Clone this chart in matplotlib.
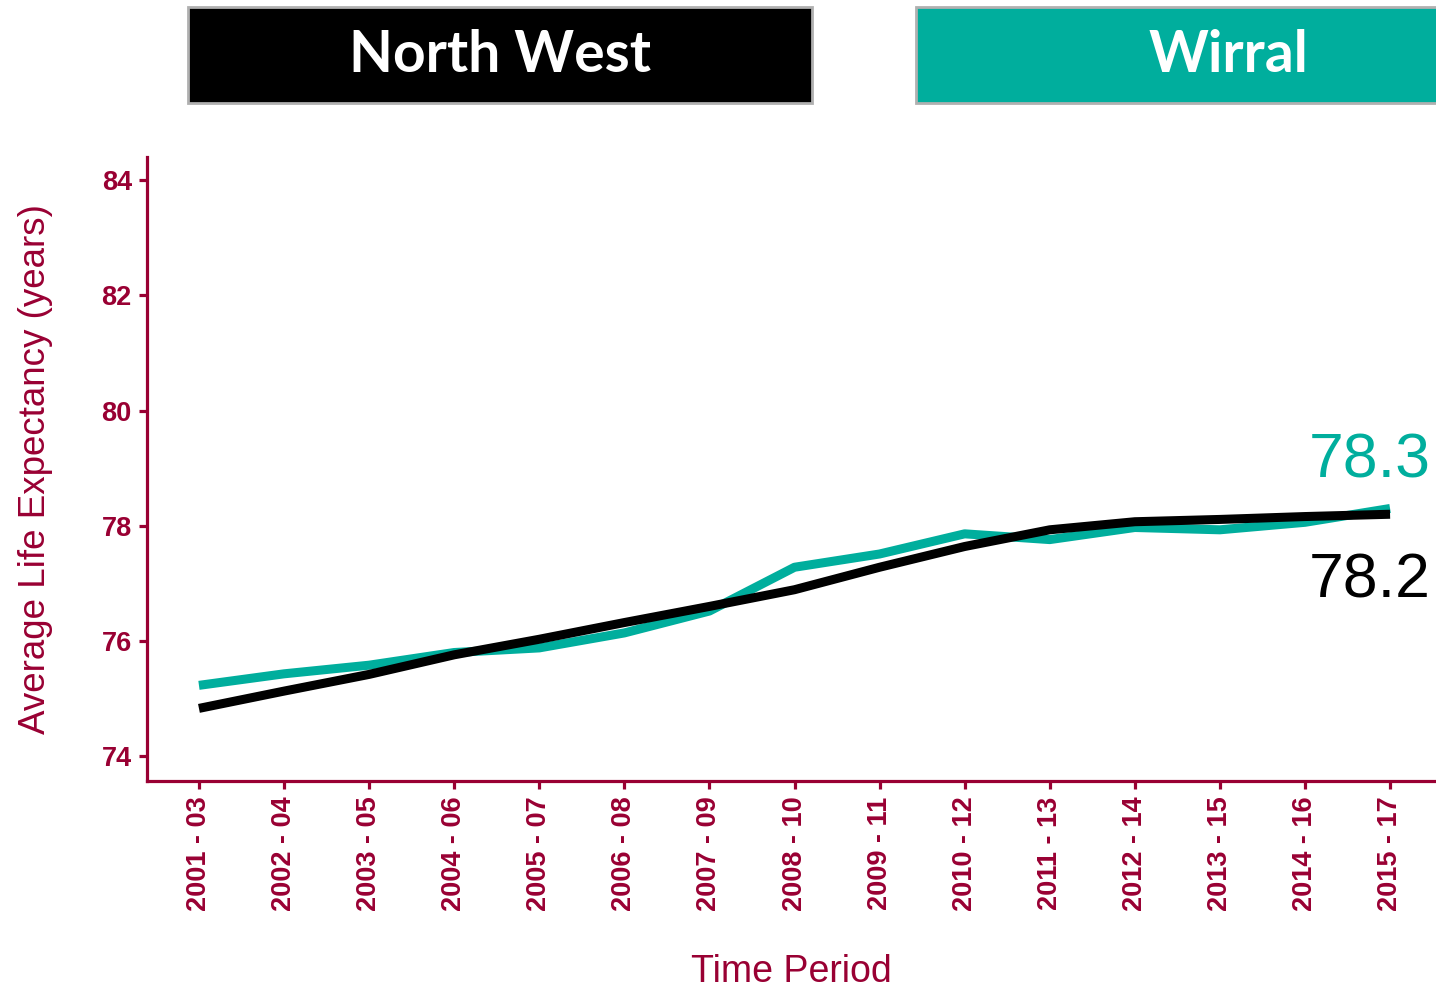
import matplotlib.pyplot as plt
from matplotlib.patches import Rectangle

# Life expectancy, 3-year pooled periods
periods = ['2001 - 03', '2002 - 04', '2003 - 05', '2004 - 06', '2005 - 07',
           '2006 - 08', '2007 - 09', '2008 - 10', '2009 - 11', '2010 - 12',
           '2011 - 13', '2012 - 14', '2013 - 15', '2014 - 16', '2015 - 17']
wirral = [75.23, 75.43, 75.58, 75.80, 75.88, 76.14, 76.52, 77.28, 77.51, 77.86,
          77.76, 77.97, 77.93, 78.06, 78.3]
north_west = [74.83, 75.13, 75.42, 75.76, 76.03, 76.32, 76.60, 76.89, 77.28, 77.64,
              77.93, 78.07, 78.11, 78.16, 78.2]

maroon = '#990033'
teal = '#00ae9d'

fig = plt.figure(figsize=(14.36, 9.94), dpi=100)
ax = fig.add_axes([0.1024, 0.2143, 0.8976, 0.6277])

x = range(len(periods))
ax.plot(x, wirral, color=teal, lw=6.5, solid_capstyle='butt', zorder=2)
ax.plot(x, north_west, color='black', lw=6.5, solid_capstyle='butt', zorder=3)

ax.set_xlim(-0.61, 14.54)
ax.set_ylim(73.57, 84.4)
ax.set_yticks([74, 76, 78, 80, 82, 84])
ax.set_xticks(list(x))
ax.set_xticklabels(periods, rotation=90)

for s in ['top', 'right']:
    ax.spines[s].set_visible(False)
for s in ['left', 'bottom']:
    ax.spines[s].set_color(maroon)
    ax.spines[s].set_linewidth(2.3)

ax.tick_params(colors=maroon, width=2.3, length=6, labelsize=19.5, pad=5)
for lab in ax.get_xticklabels() + ax.get_yticklabels():
    lab.set_fontfamily('Liberation Sans')
    lab.set_fontweight('bold')

ax.set_ylabel('Average Life Expectancy (years)', color=maroon, fontsize=26.5,
              fontfamily='Liberation Sans', labelpad=35)
ax.set_xlabel('Time Period', color=maroon, fontsize=27,
              fontfamily='Liberation Sans', labelpad=31)

# end values
ax.text(0.996, 1 - 478 / 994, f'{wirral[-1]:.1f}', transform=fig.transFigure,
        ha='right', va='baseline', color=teal, fontsize=45,
        fontfamily='Liberation Sans')
ax.text(0.996, 1 - 597 / 994, f'{north_west[-1]:.1f}', transform=fig.transFigure,
        ha='right', va='baseline', color='black', fontsize=45,
        fontfamily='Liberation Sans')

# header boxes
y0, h = 1 - 103 / 994, 96 / 994
fig.add_artist(Rectangle((188 / 1436, y0), 624 / 1436, h, transform=fig.transFigure,
                         facecolor='black', edgecolor='#b0b0b0', lw=2))
fig.add_artist(Rectangle((916 / 1436, y0), 530 / 1436, h, transform=fig.transFigure,
                         facecolor=teal, edgecolor='#b0b0b0', lw=2))
ty = 1 - 56 / 994
fig.text(500 / 1436, ty, 'North West', ha='center', va='center',
         color='white', fontsize=41, fontweight='bold', fontfamily='Lato')
fig.text(1228 / 1436, ty, 'Wirral', ha='center', va='center',
         color='white', fontsize=41, fontweight='bold', fontfamily='Lato')

fig.savefig('out.png', dpi=100)
